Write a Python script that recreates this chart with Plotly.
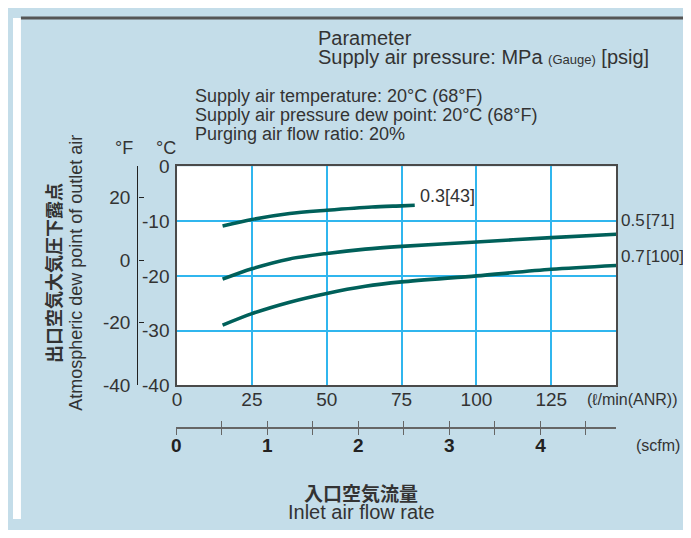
import plotly.graph_objects as go

# the page body adds an 8px margin, so the figure is 16px smaller than the 691x538 window
PAGE_W, PAGE_H = 691, 538
OFF = 8
W, H = PAGE_W - 2 * OFF, PAGE_H - 2 * OFF

# ---- data (inlet flow l/min, outlet dew point degC) ----
flow_03 = [15.2, 25, 37.6, 50, 65.1, 75, 79.4]
dew_03 = [-10.9, -9.7, -8.6, -8.0, -7.4, -7.2, -7.1]

flow_05 = [15.2, 25, 37.6, 50, 62.9, 75, 100, 125, 146.7]
dew_05 = [-20.6, -18.7, -16.9, -15.9, -15.1, -14.6, -13.8, -13.0, -12.4]

flow_07 = [15.2, 25, 37.6, 50, 62.9, 75, 100, 125, 146.7]
dew_07 = [-29.0, -26.9, -24.8, -23.2, -21.9, -21.1, -20.0, -18.8, -18.1]

series_labels = ["0.3[43]", "0.5\u200a[71]", "0.7\u200a[100]"]

x_ticks_lmin = [0, 25, 50, 75, 100, 125]
y_ticks_c = [0, -10, -20, -30, -40]
y_text_c = ["0", "-10", "-20", "-30", "-40"]
y_ticks_f = [20, 0, -20, -40]
y_text_f = ["20", "0", "-20", "-40"]
scfm_ticks = [0, 0.5, 1, 1.5, 2, 2.5, 3, 3.5, 4, 4.5]
scfm_text = ["0", "", "1", "", "2", "", "3", "", "4", ""]

# ---- styling ----
PANEL = "#C4DDE9"
GRID = "#30B6EE"
CURVE = "#00605A"
TXT = "#333333"
AX = "#4a4a4a"
FONT = "Liberation Sans, Arial, sans-serif"
JFONT = "Noto Sans CJK JP, sans-serif"


def px(x):
    return (x - OFF) / W


def py(y):
    return 1 - (y - OFF) / H


plot_l, plot_r, plot_t, plot_b = 173.3, 615.7, 162.7, 390.7

fig = go.Figure()
for fx, dy in [(flow_03, dew_03), (flow_05, dew_05), (flow_07, dew_07)]:
    fig.add_trace(go.Scatter(x=fx, y=dy, mode="lines",
                             line=dict(color=CURVE, width=3.6, shape="spline", smoothing=0.8),
                             hoverinfo="skip", showlegend=False))
# invisible helpers for the secondary axes
fig.add_trace(go.Scatter(x=[None], y=[None], xaxis="x", yaxis="y2", showlegend=False, hoverinfo="skip"))
fig.add_trace(go.Scatter(x=[None], y=[None], xaxis="x2", yaxis="y3", showlegend=False, hoverinfo="skip"))

fig.update_layout(
    width=W, height=H,
    margin=dict(l=0, r=0, t=0, b=0),
    paper_bgcolor=PANEL,
    plot_bgcolor=PANEL,
    font=dict(family=FONT, color=TXT, size=19),
    xaxis=dict(domain=[px(plot_l), px(plot_r)], range=[0, 146.7],
               tickvals=x_ticks_lmin, ticks="", showgrid=True, gridcolor=GRID, gridwidth=1.5,
               showline=True, mirror=True, linecolor=AX, linewidth=1.5, zeroline=False,
               tickfont=dict(size=19, color=TXT), ticklabelstandoff=-4, anchor="y"),
    yaxis=dict(domain=[py(plot_b), py(plot_t)], range=[-40, 0],
               tickvals=y_ticks_c, ticktext=y_text_c, ticks="", showgrid=True, gridcolor=GRID, gridwidth=1.5,
               showline=True, mirror=True, linecolor=AX, linewidth=1.5, zeroline=False,
               tickfont=dict(size=19, color=TXT), ticklabelstandoff=2, anchor="x"),
    yaxis2=dict(overlaying="y", anchor="free", position=px(133.3), side="left",
                range=[-40, 30], tickvals=y_ticks_f, ticktext=y_text_f, ticks="inside", ticklen=5,
                tickcolor="#222", tickwidth=1.3,
                showline=True, linecolor="#222", linewidth=1.3, showgrid=False, zeroline=False,
                tickfont=dict(size=19, color=TXT), ticklabelstandoff=3),
    xaxis2=dict(domain=[px(172.5), px(615.5)], range=[0, 4.83], anchor="y3",
                tickvals=scfm_ticks, ticktext=scfm_text, ticks="outside", ticklen=6,
                tickcolor="#666", tickwidth=1.3,
                showgrid=True, gridcolor="#666", gridwidth=1.3,
                showline=True, linecolor="#666", linewidth=1.5, zeroline=False,
                ticklabelstandoff=-5,
                tickfont=dict(size=19, color="#222", family="Liberation Sans, Arial", weight="bold")),
    yaxis3=dict(domain=[py(434), py(428)], range=[0, 1], anchor="x2",
                visible=False, showgrid=False, zeroline=False),
)

shapes = [
    # white main plot area
    dict(type="rect", xref="x domain", yref="y domain", x0=0, x1=1, y0=0, y1=1,
         fillcolor="white", line=dict(width=0), layer="below"),
    # white page strip left of the panel
    dict(type="rect", xref="paper", yref="paper", x0=0, x1=px(16), y0=0, y1=1,
         fillcolor="white", line=dict(width=0), layer="below"),
    # dark rule along the top of the panel
    dict(type="line", xref="paper", yref="paper", x0=px(16), x1=1, y0=1, y1=1,
         line=dict(color="#555555", width=3)),
]
fig.update_layout(shapes=shapes)


def ann(text, x, y, size, xanchor="left", yanchor="middle", family=FONT, color=TXT, angle=0, weight=None):
    f = dict(size=size, family=family, color=color)
    if weight:
        f["weight"] = weight
    fig.add_annotation(text=text, x=px(x), y=py(y), xref="paper", yref="paper",
                       xanchor=xanchor, yanchor=yanchor, showarrow=False,
                       font=f, textangle=angle)


ann("Parameter", 313, 29, 20)
ann("Supply air pressure: MPa <span style='font-size:13px'>(Gauge)</span> [psig]", 313, 49, 20)
ann("Supply air temperature: 20°C (68°F)", 189, 89, 18)
ann("Supply air pressure dew point: 20°C (68°F)", 189, 109, 18)
ann("Purging air flow ratio: 20%", 189, 129, 18)

ann("°F", 120, 143.5, 18, xanchor="center")
ann("°C", 162.5, 143.5, 18, xanchor="center")

ann(series_labels[0], 416, 193, 18)
ann(series_labels[1], 619, 219.5, 17)
ann(series_labels[2], 619, 257, 17)

ann("(ℓ/min(ANR))", 584, 406, 16)
ann("(scfm)", 634, 453, 16)

ann("入口空気流量", 359, 502, 19, xanchor="center", family=JFONT, weight="bold")
ann("Inlet air flow rate", 359, 523, 20, xanchor="center")

ann("出口空気大気圧下露点", 49, 274, 18, xanchor="center", family=JFONT, angle=-90, weight="bold")
ann("Atmospheric dew point of outlet air", 72, 274, 18, xanchor="center", angle=-90)

fig.write_html("out.html", config={"displayModeBar": False})
